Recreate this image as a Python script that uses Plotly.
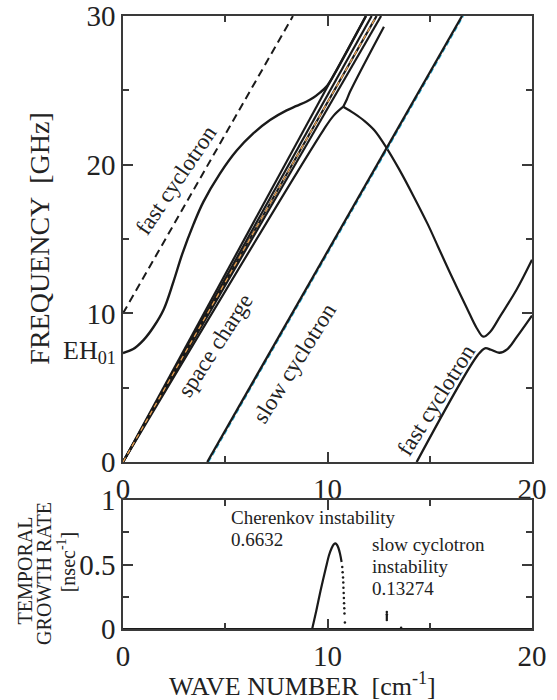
import plotly.graph_objects as go

# ---------------- data ----------------
# top panel: dispersion curves, k [cm^-1] vs f [GHz]
fast_cyc_dash_k = [0.0, 8.31]
fast_cyc_dash_f = [10.0, 30.0]

eh01_k = [0.0, 0.5, 1.0, 1.5, 2.0, 2.46, 2.9, 3.45, 3.93, 4.74, 5.56, 6.37, 7.19, 8.0, 8.49, 8.98, 9.3, 9.63, 9.95, 10.3, 11.88]
eh01_f = [7.33, 7.6, 8.2, 9.1, 10.3, 12.1, 14.0, 16.0, 17.5, 19.4, 20.95, 22.1, 23.0, 23.65, 23.95, 24.25, 24.5, 24.85, 25.25, 26.0, 30.0]

sc_lines_k_end = [11.88, 12.16, 12.40, 12.62]   # space-charge lines from origin, k at f = 30
sc_lines_f_end = [30.0, 30.0, 30.0, 30.0]

beam_k = [0.0, 12.40]
beam_f = [0.0, 30.0]

sc_slow_k = [0.0, 9.8, 10.3, 10.77]
sc_slow_f = [0.0, 22.33, 23.3, 23.9]

up_branch_k = [10.77, 10.95, 11.1, 12.76]
up_branch_f = [23.9, 24.4, 24.9, 29.28]

folded_k = [10.77, 11.3, 11.8, 12.3, 12.9, 13.5, 14.2, 14.9, 15.4, 16.0, 16.8, 17.3, 17.62, 17.95, 18.44, 19.25, 20.0]
folded_f = [23.9, 23.45, 22.95, 22.3, 21.1, 19.7, 17.9, 16.0, 14.5, 12.7, 10.4, 9.0, 8.43, 8.75, 9.8, 11.6, 13.6]

slow_cyc_k = [4.12, 16.58]
slow_cyc_f = [0.0, 30.0]
slow_cyc_ref_k = [4.18, 16.64]
slow_cyc_ref_f = [0.0, 30.0]

fast_cyc2_k = [14.36, 17.35, 17.7, 18.0, 18.4, 18.8, 19.25, 20.0]
fast_cyc2_f = [0.0, 7.2, 7.65, 7.55, 7.35, 7.6, 8.4, 9.85]

# bottom panel: temporal growth rate [nsec^-1]
cher_k = [9.25, 9.45, 9.61, 9.78, 9.93, 10.07, 10.2, 10.3, 10.37, 10.45, 10.53, 10.61, 10.69]
cher_g = [0.0, 0.14, 0.26, 0.38, 0.48, 0.57, 0.626, 0.655, 0.6632, 0.655, 0.63, 0.585, 0.52]

cher_dots_k = [10.72, 10.74, 10.76, 10.77, 10.78, 10.79, 10.80, 10.81, 10.82, 10.83, 10.85]
cher_dots_g = [0.48, 0.44, 0.40, 0.36, 0.32, 0.28, 0.24, 0.20, 0.16, 0.12, 0.05]

slow_dots_k = [12.9, 12.9, 12.9, 12.9, 12.9, 13.6]
slow_dots_g = [0.13274, 0.115, 0.10, 0.085, 0.07, 0.01]

zero_k = [0.0, 20.0]
zero_g = [0.0, 0.0]

FONT = "Liberation Serif"
BLACK = "#1a1a1a"

fig = go.Figure()

def line(x, y, width=2.2, color=BLACK, dash="solid", xa="x", ya="y", shape="linear"):
    fig.add_trace(go.Scatter(x=x, y=y, mode="lines", xaxis=xa, yaxis=ya,
                             line=dict(color=color, width=width, dash=dash, shape=shape),
                             hoverinfo="skip", showlegend=False))

# top panel
line(fast_cyc_dash_k, fast_cyc_dash_f, width=2.0, dash="8px,5px")
line(eh01_k, eh01_f, width=2.4, shape="spline")
for ke, fe in zip(sc_lines_k_end, sc_lines_f_end):
    line([0.0, ke], [0.0, fe], width=2.2)
line(sc_slow_k, sc_slow_f, width=2.2, shape="spline")
line(up_branch_k, up_branch_f, width=2.2, shape="spline")
line(beam_k, beam_f, width=1.3, color="#e8a050", dash="5px,4px")
line(folded_k, folded_f, width=2.2, shape="spline")
line(slow_cyc_ref_k, slow_cyc_ref_f, width=1.6, color="#2ab4e0", dash="5px,3px")
line(slow_cyc_k, slow_cyc_f, width=2.3)
line(fast_cyc2_k, fast_cyc2_f, width=2.3, shape="spline")

# bottom panel
line(zero_k, zero_g, width=2.2, xa="x2", ya="y2")
line(cher_k, cher_g, width=2.2, xa="x2", ya="y2", shape="spline")
fig.add_trace(go.Scatter(x=cher_dots_k, y=cher_dots_g, mode="markers", xaxis="x2", yaxis="y2",
                         marker=dict(color=BLACK, size=2.5), hoverinfo="skip", showlegend=False))
fig.add_trace(go.Scatter(x=slow_dots_k, y=slow_dots_g, mode="markers", xaxis="x2", yaxis="y2",
                         marker=dict(color=BLACK, size=2.5), hoverinfo="skip", showlegend=False))

minor_common = dict(ticks="inside", ticklen=6, tickwidth=1.6, tickcolor="#3a3a3a")
axis_common = dict(showline=True, linewidth=1.6, linecolor="#3a3a3a", mirror="ticks",
                   ticks="inside", ticklen=10, tickwidth=1.6, tickcolor="#3a3a3a",
                   showgrid=False, zeroline=False, automargin=False,
                   tickfont=dict(family=FONT, size=29, color="#222"))

fig.update_layout(
    width=557, height=700,
    margin=dict(l=123, r=25, t=16, b=71),
    paper_bgcolor="white", plot_bgcolor="white",
    xaxis=dict(axis_common, domain=[0, 1], range=[0, 20], tickvals=[0, 10, 20], anchor="y",
               minor=dict(minor_common, dtick=5)),
    yaxis=dict(axis_common, domain=[0.2724, 1], range=[0, 30], tickvals=[0, 10, 20, 30], anchor="x",
               minor=dict(minor_common, dtick=5)),
    xaxis2=dict(axis_common, domain=[0, 1], range=[0, 20], tickvals=[0, 10, 20], anchor="y2",
                minor=dict(minor_common, dtick=5)),
    yaxis2=dict(axis_common, domain=[0, 0.2104], range=[0, 1], tickvals=[0, 0.5, 1],
                ticktext=["0", "0.5", "1"], anchor="x2",
                minor=dict(minor_common, dtick=0.25)),
)

ann = []
def label(text, x, y, angle=0, size=23, xref="x", yref="y", xanchor="center", yanchor="middle", align="center"):
    ann.append(dict(text=text, x=x, y=y, xref=xref, yref=yref, textangle=angle, showarrow=False,
                    xanchor=xanchor, yanchor=yanchor, align=align,
                    font=dict(family=FONT, size=size, color="#222")))

label("fast cyclotron", 2.58, 18.96, angle=-56)
label("space charge", 4.5, 7.87, angle=-57)
label("slow cyclotron", 8.41, 6.7, angle=-58)
label("fast cyclotron", 15.29, 4.17, angle=-58)
label("EH<sub>01</sub>", -0.012, 7.4, size=26, xref="paper", xanchor="right")

label("FREQUENCY  [GHz]", -0.205, 0.637, angle=-90, size=28, xref="paper", yref="paper")
label("WAVE NUMBER  [cm<sup>-1</sup>]", 0.438, -0.090, size=26, xref="paper", yref="paper")
label("TEMPORAL", -0.239, 0.096, angle=-90, size=20, xref="paper", yref="paper")
label("GROWTH RATE", -0.193, 0.090, angle=-90, size=20, xref="paper", yref="paper")
label("[nsec<sup>-1</sup>]", -0.14, 0.110, angle=-90, size=20, xref="paper", yref="paper")

label("Cherenkov instability", 5.2, 0.868, size=19, xref="x2", yref="y2", xanchor="left")
label("0.6632", 5.2, 0.695, size=19, xref="x2", yref="y2", xanchor="left")
label("slow cyclotron", 12.1, 0.655, size=19, xref="x2", yref="y2", xanchor="left")
label("instability", 12.1, 0.485, size=19, xref="x2", yref="y2", xanchor="left")
label("0.13274", 12.1, 0.315, size=19, xref="x2", yref="y2", xanchor="left")

fig.update_layout(annotations=ann)
fig.write_html("out.html", config={"displayModeBar": False},
               post_script="document.body.style.margin='0px';document.body.style.overflow='hidden';")
